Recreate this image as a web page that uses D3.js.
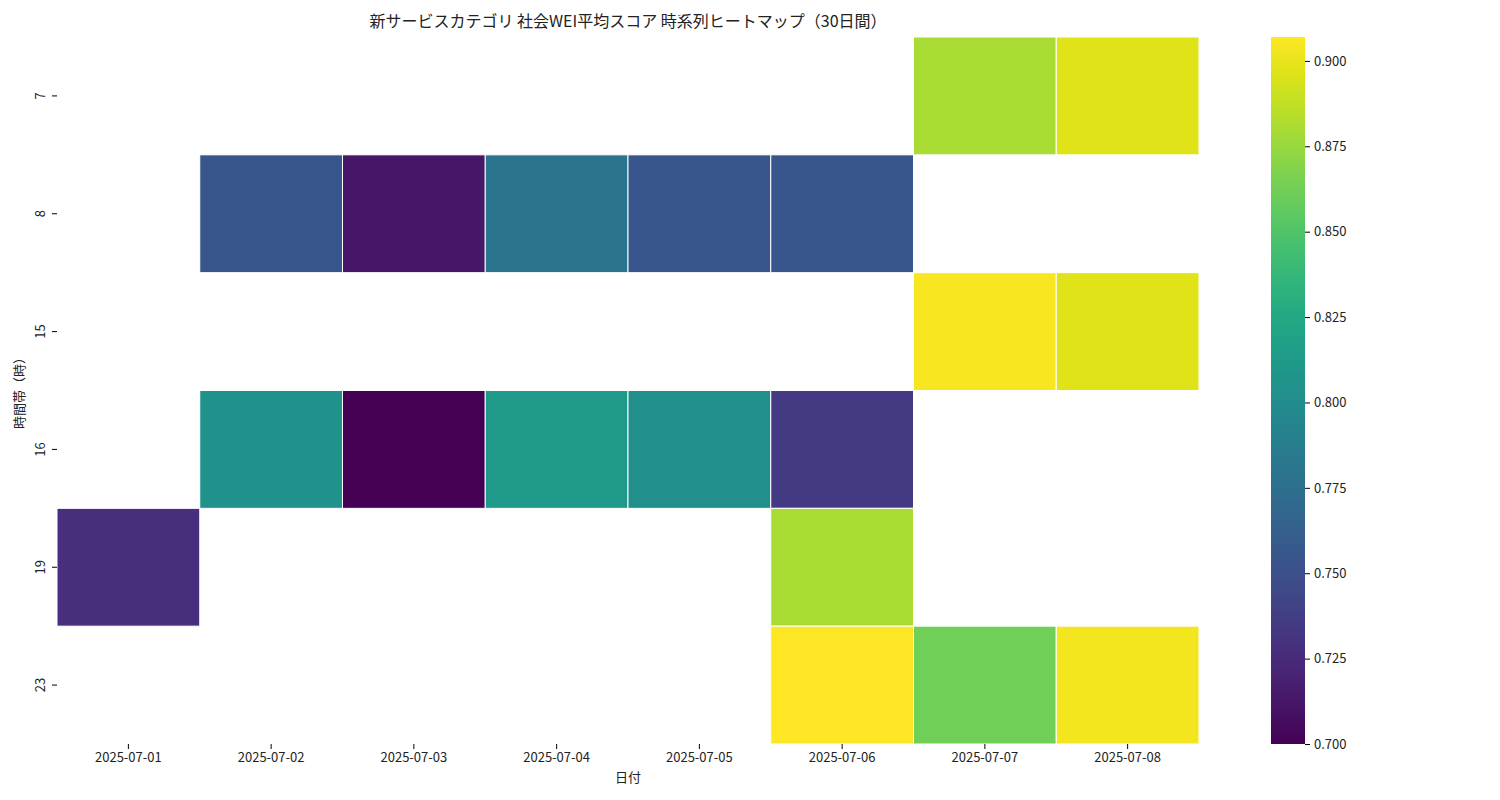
<!DOCTYPE html>
<html><head><meta charset="utf-8">
<script src="https://cdn.jsdelivr.net/npm/d3@7"></script>
<style>body{margin:0;background:#fff}text{font-family:"Noto Sans CJK JP","Noto Sans",sans-serif;fill:#222}</style>
</head><body><svg id="c" width="1500" height="800"></svg>
<script>
const dates=["2025-07-01","2025-07-02","2025-07-03","2025-07-04","2025-07-05","2025-07-06","2025-07-07","2025-07-08"];
const hours=["7","8","15","16","19","23"];
const h7 =[null,null,null,null,null,null,0.880,0.897];
const h8 =[null,0.755,0.712,0.780,0.755,0.755,null,null];
const h15=[null,null,null,null,null,null,0.905,0.897];
const h16=[null,0.805,0.700,0.812,0.803,0.735,null,null];
const h19=[0.728,null,null,null,null,0.880,null,null];
const h23=[null,null,null,null,null,0.907,0.862,0.903];
const rows=[h7,h8,h15,h16,h19,h23];
const cbTicks=[0.700,0.725,0.750,0.775,0.800,0.825,0.850,0.875,0.900];
const vmin=0.700,vmax=0.907;

const svg=d3.select("#c");
const x=d3.scaleBand().domain(dates).range([57,1199]);
const y=d3.scaleBand().domain(hours).range([37,744]);
const col=v=>d3.interpolateViridis((v-vmin)/(vmax-vmin));
const cells=[];
rows.forEach((r,i)=>r.forEach((v,j)=>{if(v!=null)cells.push({h:hours[i],d:dates[j],v});}));
svg.append("g").selectAll("rect").data(cells).join("rect")
 .attr("x",d=>x(d.d)).attr("y",d=>y(d.h)).attr("width",x.bandwidth()).attr("height",y.bandwidth())
 .attr("fill",d=>col(d.v)).attr("stroke","#fff").attr("stroke-width",1);

const gx=svg.append("g").attr("transform","translate(0,744)").call(d3.axisBottom(x).tickSize(5).tickPadding(4));
gx.select(".domain").remove();
gx.selectAll("text").attr("font-size",13).style("font-family",'"Noto Sans CJK JP",sans-serif');
const gy=svg.append("g").attr("transform","translate(57,0)").call(d3.axisLeft(y).tickSize(5).tickPadding(4));
gy.select(".domain").remove();
gy.selectAll("text").attr("font-size",13).attr("text-anchor","middle")
 .attr("transform",function(){const t=d3.select(this);return null;})
 .each(function(d){d3.select(this).attr("x",0).attr("dy",null).attr("dominant-baseline","middle")
   .attr("transform",`translate(-16,0) rotate(-90)`);});

svg.append("text").attr("x",628).attr("y",27).attr("text-anchor","middle").attr("font-size",16)
 .text("新サービスカテゴリ 社会WEI平均スコア 時系列ヒートマップ（30日間）");
svg.append("text").attr("x",628).attr("y",782).attr("text-anchor","middle").attr("font-size",13).text("日付");
svg.append("text").attr("transform","translate(24,390) rotate(-90)").attr("text-anchor","middle").attr("font-size",13).text("時間帯（時）");

// colorbar
const cy=d3.scaleLinear().domain([vmin,vmax]).range([744,37]);
const defs=svg.append("defs");
const lg=defs.append("linearGradient").attr("id","g").attr("x1",0).attr("y1",1).attr("x2",0).attr("y2",0);
d3.range(0,1.0001,0.05).forEach(t=>lg.append("stop").attr("offset",t).attr("stop-color",d3.interpolateViridis(t)));
svg.append("rect").attr("x",1271).attr("y",37).attr("width",34).attr("height",707).attr("fill","url(#g)");
const gc=svg.append("g").attr("transform","translate(1305,0)").call(d3.axisRight(cy).tickValues(cbTicks).tickFormat(d3.format(".3f")).tickSize(5).tickPadding(4));
gc.select(".domain").remove();
gc.selectAll("text").attr("font-size",13);
</script></body></html>
